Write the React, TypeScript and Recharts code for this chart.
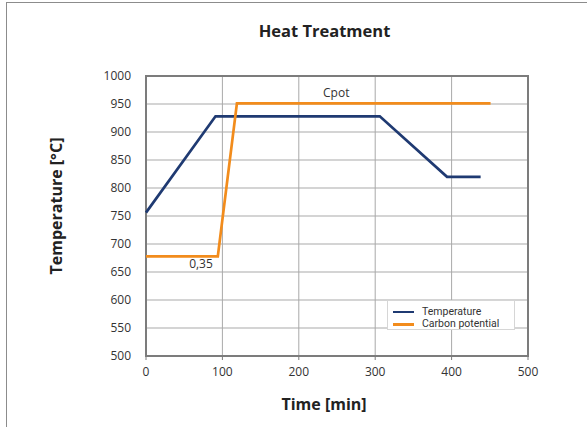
import React from 'react';
import {
  LineChart,
  Line,
  XAxis,
  YAxis,
  CartesianGrid,
  ReferenceArea,
  ReferenceDot,
  Legend,
  Label,
} from 'recharts';

// ---- data ----
const tempTime = [0, 91, 306, 394, 438];
const tempValue = [756, 928, 928, 820, 820];
const cpotTime = [0, 94, 119, 451];
const cpotValue = [678, 678, 951, 951];
const xTicks = [0, 100, 200, 300, 400, 500];
const yTicks = [500, 550, 600, 650, 700, 750, 800, 850, 900, 950, 1000];
const seriesNames = ['Temperature', 'Carbon potential'];
const noteTime = [249, 72];
const noteValue = [971, 665];
const noteText = ['Cpot', '0,35'];
const chartTitle = 'Heat Treatment';
const xTitle = 'Time [min]';
const yTitle = 'Temperature [°C]';

const tempData = tempTime.map((t, i) => ({ t, v: tempValue[i] }));
const cpotData = cpotTime.map((t, i) => ({ t, v: cpotValue[i] }));

const FONT = '"Open Sans", "Noto Sans", sans-serif';
const LEGEND_FONT = 'Roboto, "Open Sans", sans-serif';
const TEMP_COLOR = '#1f3a72';
const CPOT_COLOR = '#f28c1c';
const GRID = '#a9a9a9';
const BORDER = '#7c7c7c';
const TEXT = '#333333';

const renderLegend = (props: any) => {
  const payload = [...(props.payload || [])].sort(
    (a: any, b: any) => seriesNames.indexOf(a.value) - seriesNames.indexOf(b.value)
  );
  return (
    <div
      style={{
        width: 128,
        height: 30,
        boxSizing: 'border-box',
        border: '1px solid #d6d6d6',
        background: '#ffffff',
        paddingTop: 5,
        fontFamily: LEGEND_FONT,
        fontSize: 10.5,
        lineHeight: '12.4px',
        color: TEXT,
      }}
    >
      {payload.map((p: any) => (
        <div
          key={p.value}
          style={{
            display: 'flex',
            alignItems: 'center',
            height: 12.4,
            lineHeight: '12.4px',
            whiteSpace: 'nowrap',
          }}
        >
          <span
            style={{
              display: 'inline-block',
              width: 21,
              height: 2.6,
              background: p.color,
              marginLeft: 5,
              marginRight: 8,
              flexShrink: 0,
            }}
          />
          <span>{p.value}</span>
        </div>
      ))}
    </div>
  );
};

export default function App() {
  return (
    <div style={{ position: 'fixed', left: 0, top: 0, width: 587, height: 427, background: '#fff' }}>
      <div
        style={{
          position: 'absolute',
          left: 6,
          top: 2,
          right: 0,
          bottom: 0,
          borderLeft: '1.5px solid #8c8c8c',
          borderTop: '1.5px solid #8c8c8c',
        }}
      />
      <svg
        width={587}
        height={50}
        style={{ position: 'absolute', left: 0, top: 0, pointerEvents: 'none' }}
      >
        <text
          x={324.5}
          y={36.7}
          textAnchor="middle"
          fontFamily={FONT}
          fontSize={16.5}
          fontWeight={700}
          fill="#222"
        >
          {chartTitle}
        </text>
      </svg>
      <div style={{ position: 'absolute', left: 0, top: 0 }}>
        <LineChart
          width={587}
          height={427}
          margin={{ top: 76, right: 59, bottom: 0, left: 0 }}
        >
          <CartesianGrid stroke={GRID} strokeWidth={1} />
          <XAxis
            dataKey="t"
            type="number"
            domain={[0, 500]}
            ticks={xTicks}
            interval={0}
            height={71}
            axisLine={false}
            tickSize={4}
            tickMargin={7}
            tickLine={{ stroke: BORDER, strokeWidth: 1 }}
            tick={{ fill: TEXT, fontSize: 12, fontFamily: FONT }}
            allowDuplicatedCategory={false}
          >
            <Label
              content={(p: any) => {
                const vb = p.viewBox || { x: 146, width: 382 };
                return (
                  <text
                    x={vb.x + vb.width / 2 - 13}
                    y={410}
                    textAnchor="middle"
                    fontFamily={FONT}
                    fontSize={16}
                    fontWeight={700}
                    fill="#222"
                  >
                    {xTitle}
                  </text>
                );
              }}
            />
          </XAxis>
          <YAxis
            type="number"
            domain={[500, 1000]}
            ticks={yTicks}
            interval={0}
            width={146}
            axisLine={false}
            tickLine={false}
            tickSize={0}
            tickMargin={15}
            tick={{ fill: TEXT, fontSize: 12, fontFamily: FONT }}
          >
            <Label
              content={(p: any) => {
                const vb = p.viewBox || { y: 76, height: 280 };
                const cy = vb.y + vb.height / 2 - 10;
                return (
                  <text
                    x={62}
                    y={cy}
                    transform={`rotate(-90, 62, ${cy})`}
                    textAnchor="middle"
                    fontFamily={FONT}
                    fontSize={16}
                    fontWeight={700}
                    fill="#222"
                  >
                    {yTitle}
                  </text>
                );
              }}
            />
          </YAxis>
          <ReferenceArea
            x1={0}
            x2={500}
            y1={500}
            y2={1000}
            fill="none"
            fillOpacity={0}
            stroke={BORDER}
            strokeWidth={2}
          />
          <Line
            data={tempData}
            dataKey="v"
            name={seriesNames[0]}
            type="linear"
            stroke={TEMP_COLOR}
            strokeWidth={2.7}
            dot={false}
            activeDot={false}
            isAnimationActive={false}
          />
          <Line
            data={cpotData}
            dataKey="v"
            name={seriesNames[1]}
            type="linear"
            stroke={CPOT_COLOR}
            strokeWidth={2.7}
            dot={false}
            activeDot={false}
            isAnimationActive={false}
          />
          {noteText.map((txt, i) => (
            <ReferenceDot
              key={txt}
              x={noteTime[i]}
              y={noteValue[i]}
              r={0}
              fill="none"
              stroke="none"
              label={{ value: txt, position: 'center', fill: TEXT, fontSize: 12, fontFamily: FONT }}
            />
          ))}
          <Legend
            layout="horizontal"
            align="center"
            verticalAlign="middle"
            content={renderLegend}
            wrapperStyle={{ left: 387, top: 300, width: 128, height: 30 }}
          />
        </LineChart>
      </div>
    </div>
  );
}
